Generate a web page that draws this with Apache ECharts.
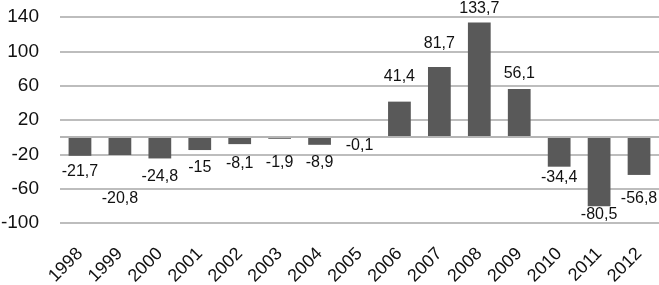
<!DOCTYPE html>
<html>
<head>
<meta charset="utf-8">
<script src="https://cdn.jsdelivr.net/npm/echarts@6/dist/echarts.min.js"></script>
<style>
  html, body { margin: 0; padding: 0; background: #fff; }
  #chart { width: 659px; height: 285px; }
</style>
</head>
<body>
<div id="chart"></div>
<script>
// years on the x axis
var years = ['1998', '1999', '2000', '2001', '2002', '2003', '2004', '2005',
  '2006', '2007', '2008', '2009', '2010', '2011', '2012'];

// bar heights as drawn in the picture
var barValues = [-21.7, -20.8, -24.8, -15, -8.1, -1.9, -8.9, -0.1,
  41.4, 81.7, 133.7, 56.1, -34.4, -80.5, -44];

// data labels as printed (2012 label does not match its bar in the source)
var valueLabels = ['-21,7', '-20,8', '-24,8', '-15', '-8,1', '-1,9', '-8,9', '-0,1',
  '41,4', '81,7', '133,7', '56,1', '-34,4', '-80,5', '-56,8'];

// y axis ticks
var yTicks = [-100, -60, -20, 20, 60, 100, 140];

// label nudges (px) to follow the hand placed labels of the original
var labelNudge = [8, 36, 10, 10, 11, 16, 10, 0, -17, -15, -6, -7, 3, 0, 16];

var chart = echarts.init(document.getElementById('chart'));

var seriesData = barValues.map(function (v, i) {
  return {
    value: v,
    label: {
      position: v >= 0 ? 'top' : 'bottom',
      offset: [0, labelNudge[i]]
    }
  };
});

var option = {
  animation: false,
  grid: {
    left: 60,
    right: 0,
    top: 17,
    bottom: 62,
    containLabel: false,
    outerBoundsMode: 'none'
  },
  xAxis: {
    type: 'category',
    data: years,
    axisLine: { show: false, onZero: false },
    axisTick: { show: false },
    axisLabel: {
      rotate: 45,
      margin: 28,
      color: '#111',
      fontFamily: 'Liberation Sans',
      fontSize: 18
    }
  },
  yAxis: {
    type: 'value',
    min: yTicks[0],
    max: yTicks[yTicks.length - 1],
    interval: 40,
    axisLine: { show: false },
    axisTick: { show: false },
    axisLabel: {
      margin: 21,
      color: '#111',
      fontFamily: 'Liberation Sans',
      fontSize: 19
    },
    splitLine: {
      lineStyle: { color: '#bdbdbd', width: 2 }
    }
  },
  series: [{
    type: 'bar',
    data: seriesData,
    barWidth: '57%',
    itemStyle: { color: '#595959' },
    label: {
      show: true,
      distance: 0,
      color: '#111',
      fontFamily: 'Liberation Sans',
      fontSize: 16,
      formatter: function (p) {
        return valueLabels[p.dataIndex];
      }
    },
    markLine: {
      silent: true,
      symbol: 'none',
      label: { show: false },
      lineStyle: { color: '#b5b5b5', width: 2, type: 'solid' },
      data: [{ yAxis: 0 }]
    }
  }]
};

chart.setOption(option);
</script>
</body>
</html>
